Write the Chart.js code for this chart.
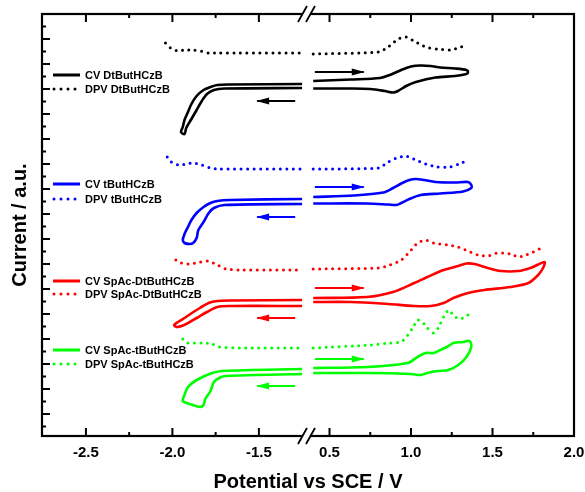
<!DOCTYPE html>
<html>
<head>
    <title>cv-dpv</title>
    <meta charset="utf-8">
    <script src="https://cdn.jsdelivr.net/npm/chart.js"></script>
    <style>
        body { margin: 0; background: #fff; }
    </style>
</head>
<body>
    <canvas id="cvchart" width="585" height="492"></canvas>

    <script>
        // axis ticks (broken x axis: left and right part)
        const xLeftTicks = [-2.5, -2.0, -1.5];
        const xLeftMinor = [-2.25, -1.75];
        const xRightTicks = [0.5, 1.0, 1.5, 2.0];
        const xRightMinor = [0.75, 1.25, 1.75];

        const names = ['DtButHCzB', 'tButHCzB', 'SpAc-DtButHCzB', 'SpAc-tButHCzB'];
        const colors = ['#000000', '#0000ff', '#ff0000', '#00ff00'];

        // [potential V, current a.u. (offset)]
        const cvLeftDt = [[-1.25,13.20],[-1.67,13.18],[-1.74,13.16],[-1.78,13.08],[-1.82,12.96],[-1.86,12.72],[-1.89,12.40],[-1.91,12.08],[-1.93,11.76],[-1.94,11.48],[-1.95,11.28],[-1.93,11.20],[-1.92,11.44],[-1.89,11.80],[-1.86,12.16],[-1.83,12.52],[-1.80,12.80],[-1.76,12.96],[-1.70,13.02],[-1.25,13.04]];
        const cvRightDt = [[0.40,13.32],[0.63,13.38],[0.81,13.44],[0.87,13.56],[0.94,13.76],[1.00,13.90],[1.06,13.94],[1.12,13.92],[1.18,13.86],[1.27,13.82],[1.34,13.76],[1.35,13.68],[1.34,13.60],[1.27,13.52],[1.15,13.46],[1.03,13.28],[0.97,13.12],[0.92,12.92],[0.89,12.86],[0.84,12.92],[0.75,13.00],[0.63,13.02],[0.40,13.02]];
        const dpvLeftDt = [[-2.04,14.84],[-2.01,14.64],[-1.97,14.52],[-1.93,14.56],[-1.88,14.56],[-1.84,14.52],[-1.79,14.44],[-1.74,14.44],[-1.61,14.44],[-1.25,14.44]];
        const dpvRightDt = [[0.40,14.40],[0.80,14.48],[0.86,14.68],[0.92,15.00],[0.97,15.08],[1.03,14.88],[1.09,14.68],[1.16,14.60],[1.24,14.56],[1.29,14.64],[1.34,14.76]];

        const cvLeftT = [[-1.25,8.60],[-1.67,8.56],[-1.74,8.52],[-1.78,8.44],[-1.82,8.28],[-1.86,8.04],[-1.89,7.76],[-1.91,7.48],[-1.93,7.20],[-1.94,6.96],[-1.93,6.84],[-1.90,6.80],[-1.88,6.84],[-1.86,7.04],[-1.85,7.36],[-1.82,7.68],[-1.79,8.04],[-1.76,8.24],[-1.70,8.36],[-1.25,8.40]];
        const cvRightT = [[0.40,8.68],[0.65,8.74],[0.83,8.86],[0.89,9.04],[0.94,9.22],[0.99,9.36],[1.03,9.40],[1.08,9.36],[1.15,9.28],[1.27,9.26],[1.35,9.28],[1.37,9.16],[1.37,9.04],[1.32,8.90],[1.18,8.82],[1.06,8.76],[0.99,8.60],[0.94,8.44],[0.91,8.36],[0.86,8.38],[0.73,8.42],[0.40,8.42]];
        const dpvLeftT = [[-2.03,10.28],[-2.00,10.04],[-1.96,9.96],[-1.92,10.00],[-1.88,10.04],[-1.83,9.96],[-1.78,9.84],[-1.73,9.80],[-1.25,9.80]];
        const dpvRightT = [[0.40,9.80],[0.80,9.84],[0.86,10.08],[0.91,10.24],[0.97,10.32],[1.03,10.16],[1.09,10.00],[1.16,9.88],[1.24,9.88],[1.31,10.04],[1.35,10.16]];

        const cvLeftSDt = [[-1.25,4.56],[-1.67,4.54],[-1.74,4.52],[-1.79,4.44],[-1.86,4.16],[-1.93,3.84],[-1.99,3.56],[-1.97,3.48],[-1.92,3.60],[-1.86,3.84],[-1.80,4.08],[-1.74,4.28],[-1.67,4.32],[-1.25,4.32]];
        const cvRightSDt = [[0.40,4.64],[0.73,4.68],[0.89,4.88],[1.02,5.24],[1.10,5.48],[1.20,5.76],[1.29,5.92],[1.34,6.02],[1.39,6.00],[1.47,5.84],[1.55,5.72],[1.66,5.72],[1.74,5.86],[1.78,5.98],[1.82,6.08],[1.81,5.84],[1.78,5.56],[1.72,5.24],[1.61,5.08],[1.45,4.96],[1.35,4.84],[1.26,4.64],[1.20,4.44],[1.12,4.32],[1.02,4.32],[0.86,4.40],[0.63,4.48],[0.40,4.48]];
        const dpvLeftSDt = [[-1.98,6.16],[-1.95,6.04],[-1.90,6.00],[-1.84,6.08],[-1.79,6.12],[-1.74,5.96],[-1.69,5.80],[-1.61,5.76],[-1.25,5.76]];
        const dpvRightSDt = [[0.40,5.80],[0.80,5.84],[0.87,5.96],[0.94,6.16],[0.99,6.48],[1.04,6.84],[1.09,6.96],[1.14,6.84],[1.23,6.76],[1.29,6.68],[1.35,6.52],[1.41,6.36],[1.47,6.32],[1.53,6.44],[1.57,6.44],[1.61,6.40],[1.66,6.28],[1.69,6.32],[1.75,6.48],[1.80,6.64]];

        const cvLeftSt = [[-1.25,1.80],[-1.71,1.72],[-1.77,1.64],[-1.86,1.36],[-1.91,1.08],[-1.93,0.76],[-1.94,0.52],[-1.90,0.40],[-1.84,0.28],[-1.82,0.36],[-1.81,0.60],[-1.78,0.92],[-1.76,1.28],[-1.73,1.44],[-1.69,1.52],[-1.25,1.60]];
        const cvRightSt = [[0.40,1.84],[0.73,1.88],[0.98,2.04],[1.04,2.28],[1.09,2.44],[1.14,2.44],[1.18,2.56],[1.23,2.72],[1.26,2.84],[1.32,2.88],[1.36,2.92],[1.37,2.68],[1.34,2.28],[1.29,1.96],[1.23,1.76],[1.16,1.72],[1.10,1.64],[1.06,1.56],[1.00,1.60],[0.73,1.64],[0.40,1.64]];
        const dpvLeftSt = [[-1.94,3.00],[-1.91,2.84],[-1.86,2.84],[-1.82,2.84],[-1.77,2.80],[-1.73,2.68],[-1.61,2.64],[-1.25,2.64]];
        const dpvRightSt = [[0.40,2.64],[0.75,2.76],[0.87,2.84],[0.94,2.88],[0.98,3.16],[1.01,3.44],[1.04,3.76],[1.07,3.68],[1.10,3.44],[1.14,3.24],[1.17,3.48],[1.20,3.88],[1.23,4.16],[1.26,3.96],[1.29,3.80],[1.32,3.84],[1.35,3.96]];

        // scan direction arrows
        const arrowRightX = [0.41, 0.71];
        const arrowRightY = [13.68, 9.08, 5.04, 2.20];
        const arrowLeftX = [-1.29, -1.51];
        const arrowLeftY = [12.52, 7.88, 3.84, 1.12];

        const cvLeft = [cvLeftDt, cvLeftT, cvLeftSDt, cvLeftSt];
        const cvRight = [cvRightDt, cvRightT, cvRightSDt, cvRightSt];
        const dpvLeft = [dpvLeftDt, dpvLeftT, dpvLeftSDt, dpvLeftSt];
        const dpvRight = [dpvRightDt, dpvRightT, dpvRightSDt, dpvRightSt];

        const FONT = '"Liberation Sans", Arial, sans-serif';
        Chart.defaults.font.family = FONT;
        Chart.defaults.color = '#000';

        const pts = arr => arr.map(p => ({ x: p[0], y: p[1] }));

        const datasets = [];
        names.forEach((name, i) => {
            const c = colors[i];
            const cv = { borderColor: c, borderWidth: 2.6, tension: 0.3, pointRadius: 0, showLine: true, fill: false };
            const dpv = { borderColor: c, borderWidth: 3, borderDash: [0, 6.5], borderCapStyle: 'round', tension: 0.2, pointRadius: 0, showLine: true, fill: false };
            datasets.push(Object.assign({ label: 'CV ' + name, xAxisID: 'xL', data: pts(cvLeft[i]) }, cv));
            datasets.push(Object.assign({ label: 'CV ' + name, xAxisID: 'xR', data: pts(cvRight[i]) }, cv));
            datasets.push(Object.assign({ label: 'DPV ' + name, xAxisID: 'xL', data: pts(dpvLeft[i]) }, dpv));
            datasets.push(Object.assign({ label: 'DPV ' + name, xAxisID: 'xR', data: pts(dpvRight[i]) }, dpv));
            datasets.push({ label: 'arrow', arrow: true, xAxisID: 'xR', borderColor: c, borderWidth: 1.8, pointRadius: 0, showLine: true,
                data: arrowRightX.map(x => ({ x: x, y: arrowRightY[i] })) });
            datasets.push({ label: 'arrow', arrow: true, xAxisID: 'xL', borderColor: c, borderWidth: 1.8, pointRadius: 0, showLine: true,
                data: arrowLeftX.map(x => ({ x: x, y: arrowLeftY[i] })) });
        });

        const legendRows = [[13.56, 13.0], [9.2, 8.6], [5.32, 4.8], [2.56, 2.0]];

        const decor = {
            id: 'decor',
            afterDatasetsDraw(chart) {
                const ctx = chart.ctx;
                chart.data.datasets.forEach((ds, i) => {
                    if (!ds.arrow) return;
                    const p = chart.getDatasetMeta(i).data;
                    const ang = Math.atan2(p[1].y - p[0].y, p[1].x - p[0].x);
                    ctx.save();
                    ctx.translate(p[1].x, p[1].y);
                    ctx.rotate(ang);
                    ctx.beginPath();
                    ctx.moveTo(1, 0);
                    ctx.lineTo(-12, -3.5);
                    ctx.lineTo(-12, 3.5);
                    ctx.closePath();
                    ctx.fillStyle = ds.borderColor;
                    ctx.fill();
                    ctx.restore();
                });
            },
            afterDraw(chart) {
                const ctx = chart.ctx;
                const a = chart.chartArea;
                const xL = chart.scales.xL, xR = chart.scales.xR, y = chart.scales.y;

                // frame
                ctx.save();
                ctx.strokeStyle = '#000';
                ctx.lineWidth = 2.2;
                ctx.strokeRect(a.left, a.top, a.right - a.left, a.bottom - a.top);

                // inward ticks
                ctx.lineWidth = 2;
                ctx.beginPath();
                const xt = (scale, vals, len) => vals.forEach(v => {
                    const px = scale.getPixelForValue(v);
                    ctx.moveTo(px, a.bottom); ctx.lineTo(px, a.bottom - len);
                    ctx.moveTo(px, a.top); ctx.lineTo(px, a.top + len);
                });
                xt(xL, xLeftTicks, 8); xt(xL, xLeftMinor, 4);
                xt(xR, xRightTicks, 8); xt(xR, xRightMinor, 4);
                for (let v = -0.5; v < 16; v += 0.5) {
                    const py = y.getPixelForValue(v);
                    const len = Number.isInteger(v) ? 8 : 4;
                    ctx.moveTo(a.left, py); ctx.lineTo(a.left + len, py);
                }
                ctx.stroke();

                // axis break marks
                const bx = xR.left;
                [a.top, a.bottom].forEach(yy => {
                    ctx.fillStyle = '#fff';
                    ctx.fillRect(bx - 5.5, yy - 3, 8, 6);
                    ctx.beginPath();
                    ctx.lineWidth = 1.8;
                    ctx.moveTo(bx - 10, yy + 8); ctx.lineTo(bx - 1, yy - 8);
                    ctx.moveTo(bx - 2, yy + 8); ctx.lineTo(bx + 7, yy - 8);
                    ctx.stroke();
                });

                // axis titles
                ctx.fillStyle = '#000';
                ctx.font = 'bold 20px ' + FONT;
                ctx.textAlign = 'center';
                ctx.textBaseline = 'alphabetic';
                ctx.fillText('Potential vs SCE / V', (a.left + a.right) / 2, 488);
                ctx.save();
                ctx.translate(25.5, (a.top + a.bottom) / 2);
                ctx.rotate(-Math.PI / 2);
                ctx.fillText('Current / a.u.', 0, 0);
                ctx.restore();

                // inline legend
                ctx.font = 'bold 11px ' + FONT;
                ctx.textAlign = 'left';
                ctx.textBaseline = 'middle';
                names.forEach((name, i) => {
                    ['CV', 'DPV'].forEach((kind, k) => {
                        const py = y.getPixelForValue(legendRows[i][k]);
                        ctx.beginPath();
                        ctx.strokeStyle = colors[i];
                        if (k === 0) {
                            ctx.setLineDash([]);
                            ctx.lineCap = 'butt';
                            ctx.lineWidth = 3;
                            ctx.moveTo(a.left + 11, py); ctx.lineTo(a.left + 38, py);
                        } else {
                            ctx.setLineDash([0, 7]);
                            ctx.lineCap = 'round';
                            ctx.lineWidth = 3;
                            ctx.moveTo(a.left + 12, py); ctx.lineTo(a.left + 36, py);
                        }
                        ctx.stroke();
                        ctx.setLineDash([]);
                        ctx.fillStyle = '#000';
                        ctx.fillText(kind + ' ' + name, a.left + 43, py + 0.5);
                    });
                });
                ctx.restore();
            }
        };

        const xAxis = (min, max, ticks) => ({
            type: 'linear',
            position: 'bottom',
            stack: 'x',
            stackWeight: 1,
            min: min,
            max: max,
            grid: { display: false, drawTicks: false },
            border: { display: false },
            afterBuildTicks: scale => { scale.ticks = ticks.map(v => ({ value: v })); },
            afterFit: scale => { scale.height = 56; scale.paddingLeft = 0; scale.paddingRight = 0; },
            ticks: {
                padding: 8,
                font: { size: 15, weight: 'bold' },
                color: '#000',
                maxRotation: 0,
                callback: v => v.toFixed(1)
            }
        });

        new Chart(document.getElementById('cvchart'), {
            type: 'scatter',
            data: { datasets: datasets },
            options: {
                responsive: false,
                animation: false,
                layout: { padding: { top: 14, right: 11, left: 0, bottom: 0 } },
                plugins: { legend: { display: false }, tooltip: { enabled: false } },
                scales: {
                    xL: xAxis(-2.754, -1.216, xLeftTicks),
                    xR: xAxis(0.368, 2.0, xRightTicks),
                    y: {
                        type: 'linear',
                        position: 'left',
                        min: -0.88,
                        max: 16,
                        grid: { display: false, drawTicks: false },
                        border: { display: false },
                        ticks: { display: false },
                        afterFit: scale => { scale.width = 42; scale.paddingTop = 0; scale.paddingBottom = 0; }
                    }
                }
            },
            plugins: [decor]
        });
    </script>
</body>
</html>
